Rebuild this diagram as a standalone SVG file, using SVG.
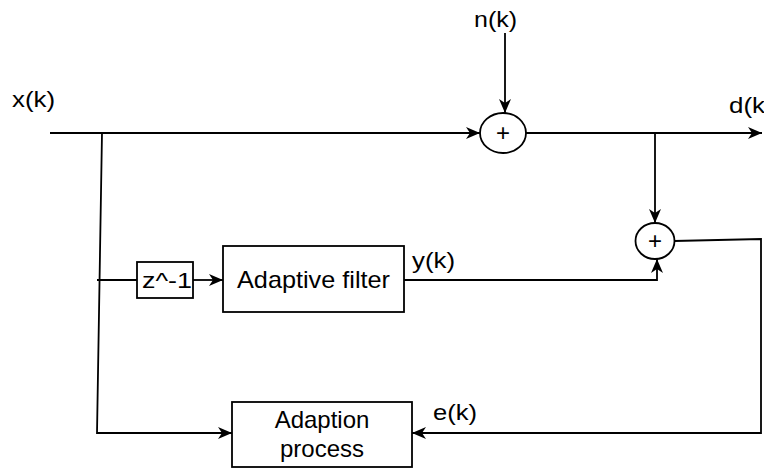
<svg xmlns="http://www.w3.org/2000/svg" width="764" height="469" viewBox="0 0 764 469">
<style>
.ln{fill:none;stroke:#000;stroke-width:1.8}
.bx{fill:#fff;stroke:#000;stroke-width:1.8}
.t{font-family:"Liberation Sans",Arial,sans-serif;font-size:22px;fill:#000}
.big{font-size:24px}
.pl{font-size:24px}
</style>
<defs>
<marker id="ah" viewBox="0 0 14 12" refX="14" refY="6" markerWidth="14" markerHeight="12" markerUnits="userSpaceOnUse" orient="auto">
<path d="M0,0 L14,6 L0,12 L4,6 z" fill="#000"/>
</marker>
</defs>
<rect width="764" height="469" fill="#fff"/>
<g id="connectors">
<path class="ln" d="M50,133 H480" marker-end="url(#ah)"/>
<path class="ln" d="M505,33 V113" marker-end="url(#ah)"/>
<path class="ln" d="M526,133 H762" marker-end="url(#ah)"/>
<path class="ln" d="M655,133 V223" marker-end="url(#ah)"/>
<path class="ln" d="M102,133 L97,433 H232" marker-end="url(#ah)"/>
<path class="ln" d="M97,280 H137"/>
<path class="ln" d="M193,280 H223" marker-end="url(#ah)"/>
<path class="ln" d="M404,280 H657 V259" marker-end="url(#ah)"/>
<path class="ln" d="M674,241 L761,239 V433 H412" marker-end="url(#ah)"/>
</g>
<g id="sum1">
<ellipse class="bx" cx="503" cy="133" rx="23" ry="20"/>
<text class="t pl" x="503" y="141" text-anchor="middle">+</text>
</g>
<g id="sum2">
<ellipse class="bx" cx="655" cy="241" rx="19.5" ry="18"/>
<text class="t pl" x="655" y="249" text-anchor="middle">+</text>
</g>
<g id="delay">
<rect class="bx" x="137" y="262" width="56" height="36"/>
<text class="t" x="142" y="288" textLength="50" lengthAdjust="spacingAndGlyphs">z^-1</text>
</g>
<g id="filter">
<rect class="bx" x="223" y="246" width="181" height="66"/>
<text class="t big" x="237" y="288" textLength="153" lengthAdjust="spacingAndGlyphs">Adaptive filter</text>
</g>
<g id="adaption">
<rect class="bx" x="232" y="402" width="180" height="65"/>
<text class="t big" x="322" y="428" text-anchor="middle">Adaption</text>
<text class="t big" x="322" y="457" text-anchor="middle">process</text>
</g>
<g id="labels">
<text class="t" x="12" y="107" textLength="43" lengthAdjust="spacingAndGlyphs">x(k)</text>
<text class="t" x="474" y="27" textLength="43" lengthAdjust="spacingAndGlyphs">n(k)</text>
<text class="t" x="729" y="113" textLength="36" lengthAdjust="spacingAndGlyphs">d(k</text>
<text class="t" x="412" y="268" textLength="43" lengthAdjust="spacingAndGlyphs">y(k)</text>
<text class="t" x="433" y="420" textLength="44" lengthAdjust="spacingAndGlyphs">e(k)</text>
</g>
</svg>
